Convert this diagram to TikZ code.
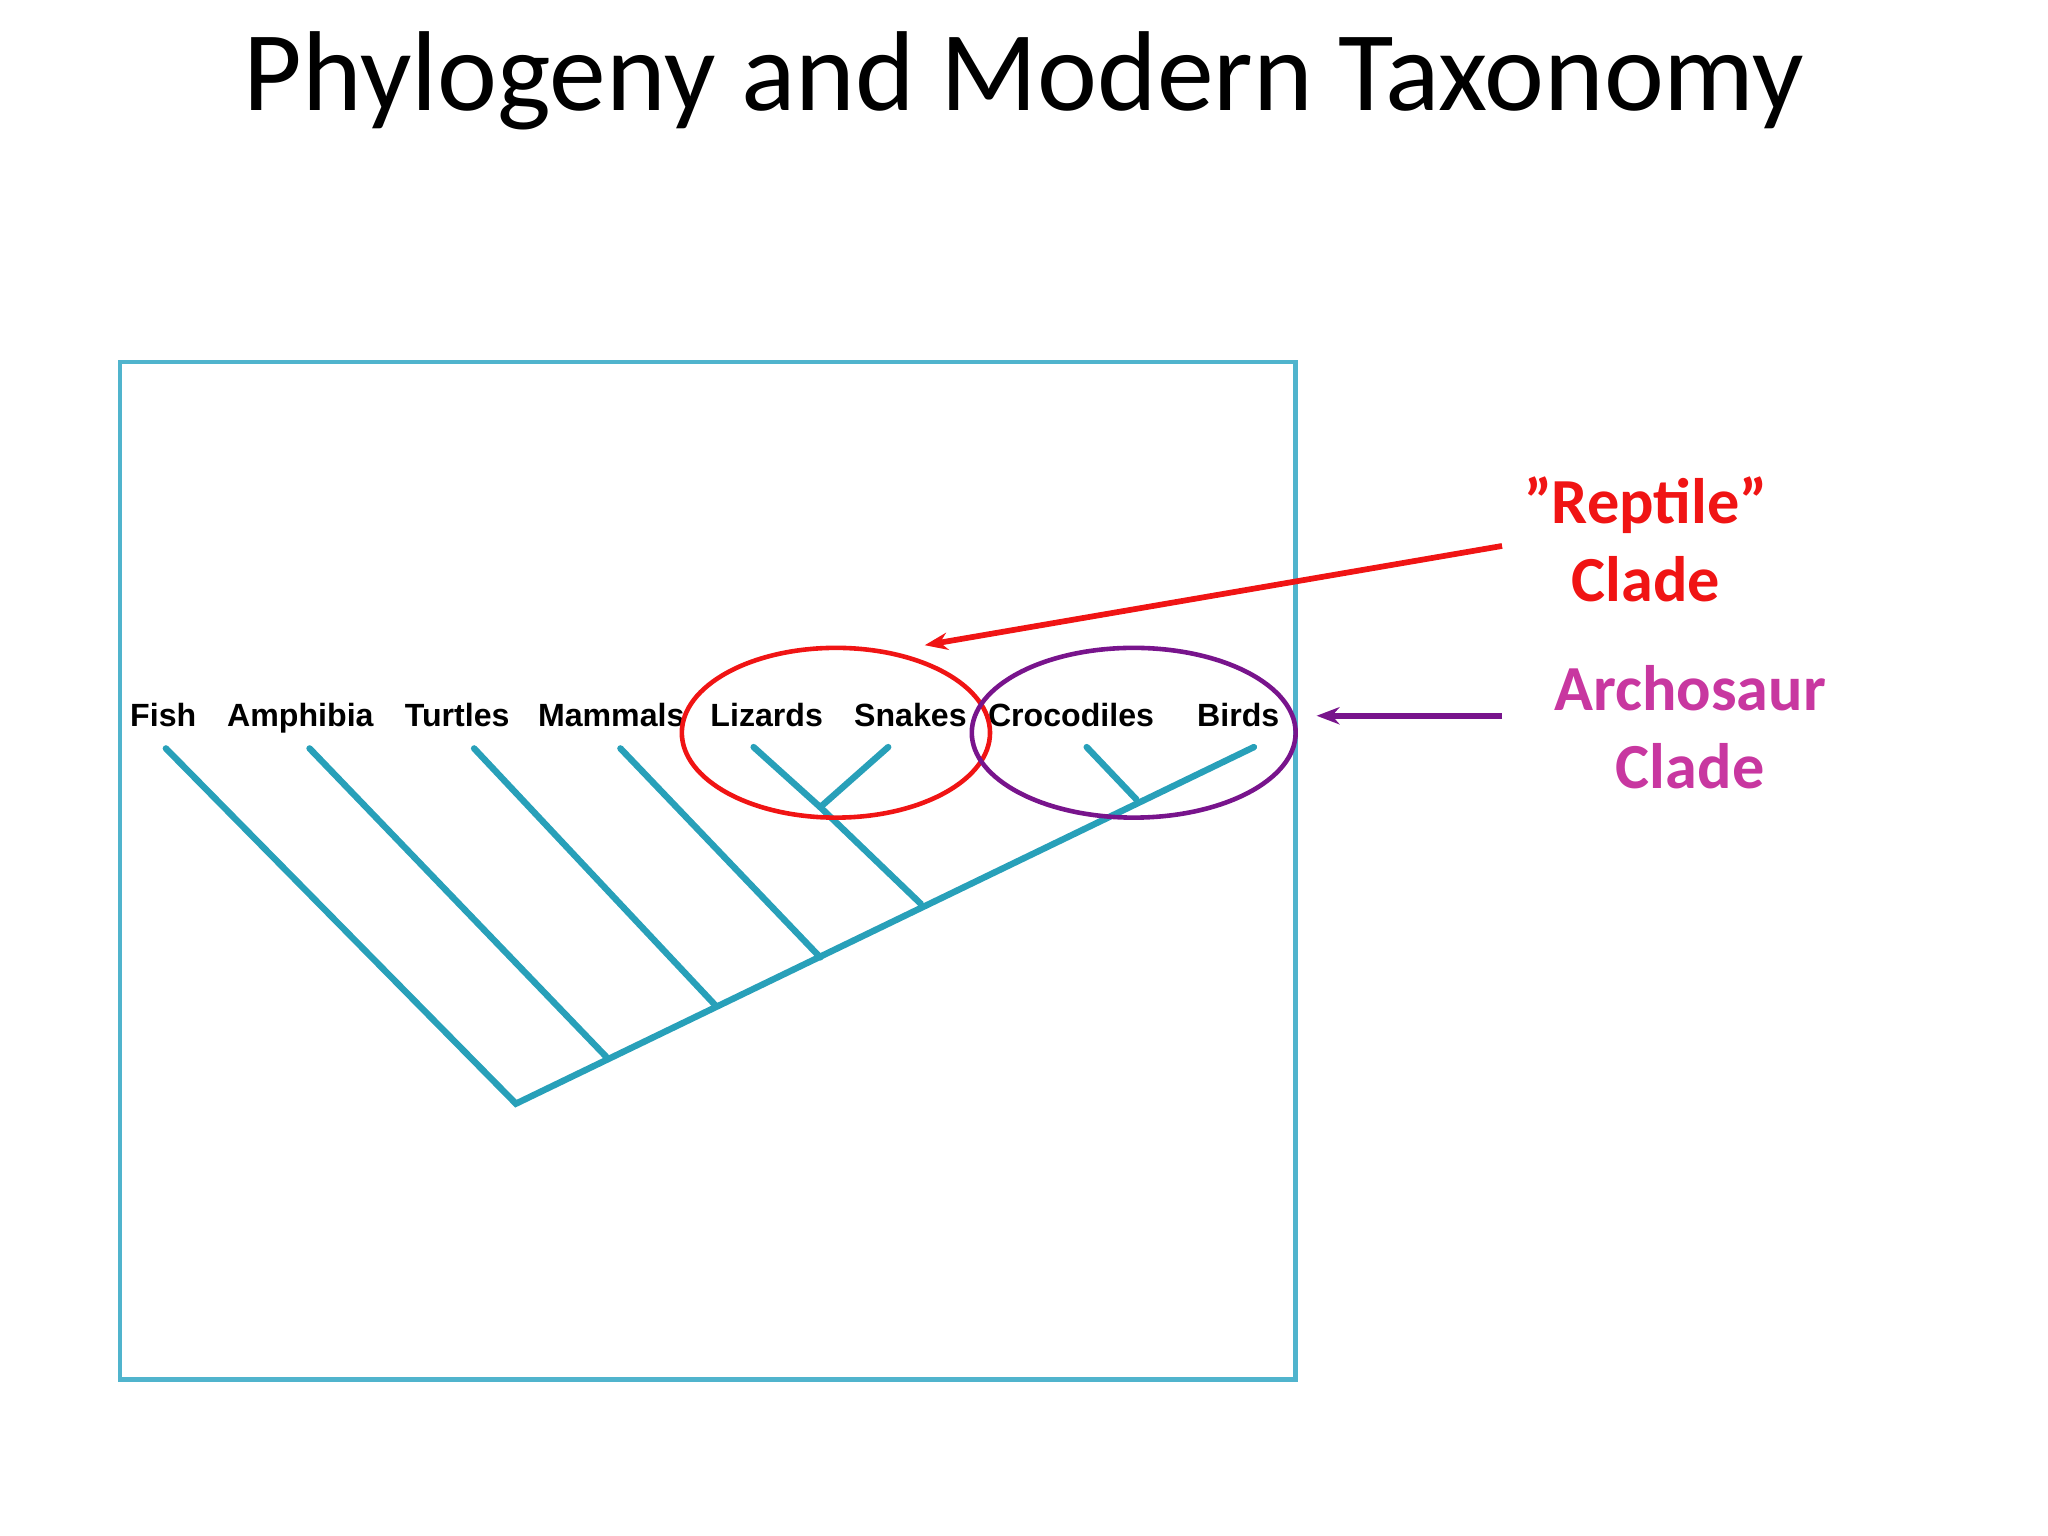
\documentclass[tikz,border=0pt]{standalone}
\usepackage{fontspec}
\setmainfont{Carlito}
\newfontfamily\lblfont{Liberation Sans}
\usetikzlibrary{shapes.geometric,arrows.meta}
\begin{document}
\begin{tikzpicture}[x=0.02cm,y=-0.02cm,
  tree/.style={draw=treec, line width=2.8pt, line cap=round},
  lbl/.style={font=\lblfont\bfseries\fontsize{14}{16}\selectfont, inner sep=0pt, anchor=base},
  side/.style={font=\bfseries\fontsize{28}{32}\selectfont, inner sep=0pt}]
\definecolor{redc}{RGB}{240,20,20}
\definecolor{purp}{RGB}{120,20,140}
\definecolor{mag}{RGB}{200,55,160}
\definecolor{boxc}{RGB}{80,180,205}
\definecolor{treec}{RGB}{40,160,185}
\useasboundingbox (0,0) rectangle (1568,1176);
\node (title) at (784,62) {\fontsize{49.5}{56}\selectfont Phylogeny and Modern Taxonomy};
\draw[boxc, line width=2pt] (92,277) rectangle (992,1056);
% labels
\node[lbl] (fish) at (125,556) {Fish};
\node[lbl] (amph) at (230,556) {Amphibia};
\node[lbl] (turt) at (350,556) {Turtles};
\node[lbl] (mamm) at (468,556) {Mammals};
\node[lbl] (liz) at (587,556) {Lizards};
\node[lbl] (snk) at (697,556) {Snakes};
\node[lbl] (croc) at (820,556) {Crocodiles};
\node[lbl] (bird) at (948,556) {Birds};
% tree
\coordinate (root) at (395,845);
\coordinate (tfish) at (127,573);
\coordinate (tamph) at (237,573);
\coordinate (tturt) at (363,573);
\coordinate (tmamm) at (475,573);
\coordinate (tliz) at (577,572);
\coordinate (tsnk) at (680,572);
\coordinate (tcroc) at (832,572);
\coordinate (tbird) at (960,572);
\coordinate (ls) at (628,618);
\coordinate (n1) at (465,810);
\coordinate (n2) at (548,770);
\coordinate (n3) at (628,733);
\coordinate (n4) at (705,692);
\coordinate (n5) at (870,612);
\draw[tree] (tfish) -- (root) -- (tbird);
\draw[tree] (tamph) -- (n1);
\draw[tree] (tturt) -- (n2);
\draw[tree] (tmamm) -- (n3);
\draw[tree] (tliz) -- (ls) -- (n4);
\draw[tree] (tsnk) -- (ls);
\draw[tree] (tcroc) -- (n5);
% ellipses
\node[draw=redc, line width=2pt, ellipse, minimum width=4.72cm, minimum height=2.6cm, inner sep=0pt] (rell) at (640,561) {};
\node[draw=purp, line width=2pt, ellipse, minimum width=4.96cm, minimum height=2.6cm, inner sep=0pt] (pell) at (868,561) {};
% side labels
\node[side, text=redc, align=center] (rep) at (1260,413) {\symbol{34}Reptile\symbol{34}\\[2pt]Clade};
\node[side, text=mag, align=center] (arch) at (1294,557) {Archosaur\\[2pt]Clade};
\coordinate (ra) at (1150,418);
\coordinate (rb) at (708,494);
\coordinate (pa) at (1150,548);
\coordinate (pb) at (1008,548);
\draw[redc, line width=2.5pt, -{Stealth[length=10pt]}] (ra) -- (rb);
\draw[purp, line width=2.5pt, -{Stealth[length=10pt]}] (pa) -- (pb);
\end{tikzpicture}
\end{document}
